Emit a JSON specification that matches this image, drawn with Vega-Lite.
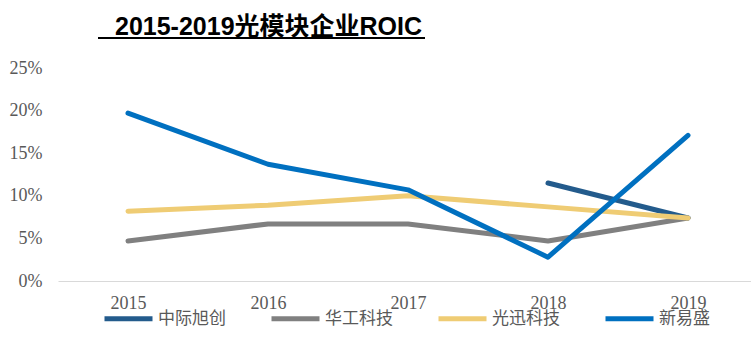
{
  "$schema": "https://vega.github.io/schema/vega-lite/v6.json",
  "width": 693,
  "height": 213,
  "autosize": {"type": "none"},
  "padding": {"left": 58, "top": 68, "right": 0, "bottom": 74},
  "background": "white",
  "title": {
    "text": "2015-2019光模块企业ROIC",
    "anchor": "start",
    "frame": "group",
    "dx": 57,
    "offset": -22,
    "baseline": "alphabetic",
    "font": "Liberation Sans, Noto Sans CJK SC",
    "fontSize": 25,
    "fontWeight": "bold",
    "color": "#000000"
  },
  "config": {"view": {"stroke": null}},
  "data": {
    "values": [
      {"company": "中际旭创", "year": 2018, "roic": 0.115},
      {"company": "中际旭创", "year": 2019, "roic": 0.074},
      {"company": "华工科技", "year": 2015, "roic": 0.047},
      {"company": "华工科技", "year": 2016, "roic": 0.067},
      {"company": "华工科技", "year": 2017, "roic": 0.067},
      {"company": "华工科技", "year": 2018, "roic": 0.047},
      {"company": "华工科技", "year": 2019, "roic": 0.074},
      {"company": "光迅科技", "year": 2015, "roic": 0.082},
      {"company": "光迅科技", "year": 2016, "roic": 0.089},
      {"company": "光迅科技", "year": 2017, "roic": 0.1},
      {"company": "光迅科技", "year": 2018, "roic": 0.087},
      {"company": "光迅科技", "year": 2019, "roic": 0.074},
      {"company": "新易盛", "year": 2015, "roic": 0.197},
      {"company": "新易盛", "year": 2016, "roic": 0.137},
      {"company": "新易盛", "year": 2017, "roic": 0.107},
      {"company": "新易盛", "year": 2018, "roic": 0.028},
      {"company": "新易盛", "year": 2019, "roic": 0.171}
    ]
  },
  "layer": [
    {
      "mark": {"type": "line", "strokeWidth": 5, "strokeCap": "round", "strokeJoin": "round"},
      "encoding": {
        "x": {
          "field": "year",
          "type": "quantitative",
          "scale": {"domain": [2014.5, 2019.45], "nice": false, "zero": false},
          "axis": {
            "values": [2015, 2016, 2017, 2018, 2019],
            "format": "d",
            "title": null,
            "ticks": false,
            "grid": false,
            "domainColor": "#D9D9D9",
            "domainWidth": 1,
            "labelFont": "Liberation Serif",
            "labelFontSize": 18,
            "labelColor": "#595959",
            "labelPadding": 13,
            "labelFlush": false
          }
        },
        "y": {
          "field": "roic",
          "type": "quantitative",
          "scale": {"domain": [0, 0.25], "nice": false},
          "axis": {
            "values": [0, 0.05, 0.1, 0.15, 0.2, 0.25],
            "format": ".0%",
            "title": null,
            "domain": false,
            "ticks": false,
            "grid": false,
            "labelFont": "Liberation Serif",
            "labelFontSize": 18,
            "labelColor": "#595959",
            "labelPadding": 16
          }
        },
        "color": {
          "field": "company",
          "type": "nominal",
          "scale": {
            "domain": ["中际旭创", "华工科技", "光迅科技", "新易盛"],
            "range": ["#235B8C", "#808080", "#EFCC74", "#0070C0"]
          },
          "legend": {
            "orient": "none",
            "legendX": 44,
            "legendY": 224,
            "direction": "horizontal",
            "columns": 4,
            "title": null,
            "symbolType": "stroke",
            "symbolSize": 2304,
            "symbolStrokeWidth": 5,
            "labelFont": "Noto Sans CJK SC",
            "labelFontSize": 17,
            "labelColor": "#595959",
            "columnPadding": 35,
            "labelOffset": 3
          }
        }
      }
    },
    {
      "mark": {"type": "rule", "color": "#000000", "strokeWidth": 1.5},
      "encoding": {
        "x": {"datum": 2014.786, "type": "quantitative"},
        "x2": {"datum": 2017.121},
        "y": {"datum": 0.2849, "type": "quantitative"}
      }
    }
  ]
}
